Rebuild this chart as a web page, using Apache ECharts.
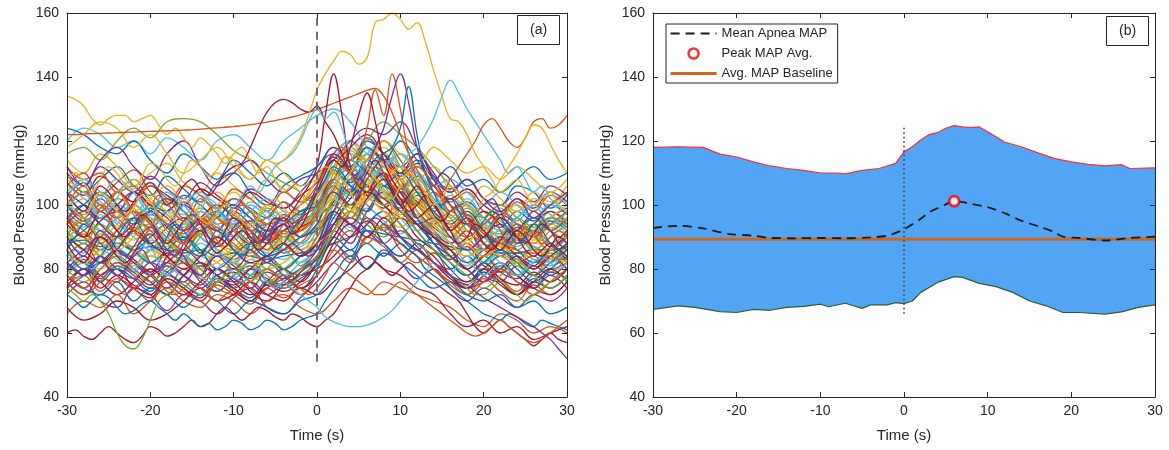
<!DOCTYPE html>
<html>
<head>
<meta charset="UTF-8">
<title>Blood pressure during apnea</title>
<script src="https://cdn.jsdelivr.net/npm/echarts@6/dist/echarts.min.js"></script>
<style>
  html, body { margin: 0; padding: 0; background: #fff; }
  #chart { width: 1169px; height: 450px; }
</style>
</head>
<body>
<div id="chart"></div>
<script>
// time grids (s)
var T1 = [-30,-29,-28,-27,-26,-25,-24,-23,-22,-21,-20,-19,-18,-17,-16,-15,-14,-13,-12,-11,-10,-9,-8,-7,-6,-5,-4,-3,-2,-1,0,1,2,3,4,5,6,7,8,9,10,11,12,13,14,15,16,17,18,19,20,21,22,23,24,25,26,27,28,29,30];
var T2 = [-30,-28,-26,-24,-22,-20,-18,-16,-14,-12,-10,-8,-6,-4,-2,0,2,4,6,8,10,12,14,16,18,20,22,24,26,28,30];

// panel (a): individual apnea traces, mmHg
var bpO1 = [108,110,107,104,108,112,110,106,105,109, 113,112,108,106,110,114,112,109,111,115, 114,110,108,111,114,113,114,117,121,128, 136,141,145,148,147,144,146,157,158,160, 158,155,157,151,142,134,127,126,122,116, 112,108,104,106,108,104,100,102,104,100, 98];
var bpO2 = [134,133,131,127,125,127,128,128,126,127, 128,125,122,124,121,118,121,119,116,113, 116,118,114,110,112,108,104,106,104,100, 103,106,110,108,104,100,104,108,105,100, 97,100,98,94,92,96,94,90,88,91, 94,92,88,86,89,92,90,87,86,89, 90];
var bpO3 = [122,122,122.2,122.3,122.4,122.5,122.6,122.7,122.8,122.9, 123,123.1,123.2,123.3,123.4,123.5,123.7,123.9,124.1,124.3, 124.5,124.8,125.1,125.5,125.9,126.4,126.9,127.5,128.2,129, 129.8,130.8,131.8,132.8,133.8,134.8,135.8,136.4,134,129, 122,116,111,107,104,102,100,98,96,94, 92,90,88,87,86,85,85,84,84,83, 83];
var bpO4 = [104,100,98,102,106,104,100,98,101,105, 107,104,100,102,106,108,105,103,106,110, 112,113,118,124,129,132,133,132,130,129, 131,126,122,116,110,106,104,108,110,106, 102,98,100,103,100,96,92,94,96,93, 88,86,89,92,90,86,84,86,88,86, 84];
var bpO5 = [96,92,90,94,98,96,92,90,93,97, 95,91,88,91,95,97,94,90,88,92, 96,94,90,88,92,96,95,98,102,106, 112,128,141,128,112,106,110,114,110,104, 100,103,106,102,97,95,98,100,96,92, 90,93,96,94,90,88,91,94,92,88, 86];
var bpO6 = [100,104,106,102,98,100,104,102,98,96, 99,103,101,97,95,98,102,100,96,94, 97,100,98,95,96,99,101,98,97,100, 104,110,116,118,114,116,124,136,128,141, 130,116,108,104,106,102,98,100,96,92, 94,96,92,88,90,93,91,88,90,92, 90];
var bpO7 = [90,86,84,88,92,90,86,84,87,91, 93,90,86,84,88,92,94,90,87,89, 93,95,92,88,90,94,96,93,95,100, 106,112,116,114,110,108,112,118,124,134, 141,132,118,110,106,110,108,104,100,98, 100,102,98,94,92,95,98,96,92,90, 92];
var bpO8 = [86,90,94,92,88,86,90,94,96,92, 88,86,90,94,92,88,85,88,92,90, 86,84,88,92,90,86,88,92,96,100, 104,108,112,110,106,104,108,112,116,118, 124,137,122,110,104,100,102,98,94,92, 95,98,96,92,88,90,94,92,88,86, 88];
var bpO9 = [98,102,104,100,96,98,102,106,104,100, 97,100,104,102,98,95,98,102,100,96, 99,103,106,104,108,112,114,116,120,126, 130,127,129,124,116,112,114,110,112,114, 112,116,118,122,127,134,139,135,130,126, 122,118,114,110,112,108,104,106,102,100, 98];
var bpO10 = [94,98,96,92,90,94,98,96,92,90, 93,96,94,90,88,91,95,93,89,87, 90,94,92,88,86,90,94,96,92,94, 98,104,108,112,110,106,108,112,110,106, 104,108,112,110,106,104,108,112,116,120, 125,127,124,120,118,121,126,127,124,125, 128];
var bpO11 = [88,84,82,86,90,88,84,82,85,89, 91,88,84,82,86,90,92,88,85,87, 90,92,89,86,88,92,94,91,93,98, 104,110,114,112,118,128,135,126,114,108, 104,100,96,98,100,96,92,88,90,94, 92,88,86,89,92,90,86,84,87,90, 88];
var bpO12 = [102,98,96,100,104,102,98,96,99,103, 101,97,95,98,102,100,96,94,97,100, 98,95,93,96,100,102,99,97,100,104, 108,112,110,106,110,114,112,108,104,102, 106,110,108,104,100,102,106,104,100,98, 102,104,108,112,116,121,125,124,119,114, 110];
var bpU1 = [60,61,59,58,60,62,60,58,57,59, 62,61,59,60,62,64,62,63,66,68, 66,64,66,68,67,65,64,66,65,63, 62,64,66,70,74,78,80,82,80,78, 80,82,80,78,76,74,72,70,66,62, 60,62,64,62,60,58,56,58,60,58, 57];
var bpU2 = [72,70,68,70,72,71,68,66,67,69, 70,68,66,64,66,64,62,63,61,62, 64,63,61,62,64,63,61,62,64,65, 66,70,74,78,82,86,88,86,84,86, 88,86,84,80,78,76,74,72,70,68, 66,65,64,66,65,63,62,64,63,62, 61];
var bpU3 = [74,72,70,72,70,66,60,56,55,58, 64,70,72,74,76,74,72,74,76,78, 80,78,76,78,80,82,80,78,80,82, 84,88,92,96,98,96,94,92,94,96, 94,90,88,86,82,80,78,76,74,72, 72,74,76,74,72,70,72,74,76,78, 76];
var bpU4 = [84,86,82,80,84,88,86,82,80,84, 86,82,78,80,84,82,78,76,80,82, 78,76,78,80,76,74,76,74,72,70, 68,65,63.5,62.5,62,62,62.5,63.5,65,67, 70,73,76,79,82,80,78,82,84,80, 78,80,82,80,78,80,82,84,82,80, 82];
var bpU5 = [82,80,78,82,84,80,78,80,84,86, 82,80,84,86,84,80,78,82,84,82, 80,82,86,84,82,84,86,88,86,84, 86,90,94,96,94,92,94,96,94,92, 90,88,86,84,82,80,78,76,75,73, 71,69.5,68,66.5,65,63.5,62,60,58,55, 52];
var bpU6 = [78,76,74,76,78,76,74,72,74,76, 78,76,73,72,74,76,74,72,70,72, 74,76,74,72,74,76,78,76,74,72, 74,78,82,80,78,76,74,72,72,74, 76,74,72,70,68,66,64,62,60,59, 60,62,64,62,60,58,57,58,60,62, 64];

var bpH1 = [120,124,122,118,120,116,121,118,114,120, 122,118,114,120,124,128,130,126,118,112, 116,110,106,108,104,100,104,100,96,100, 98];
var bpH2 = [116,118,114,120,124,121,126,127,126,122, 117,114,110,107,104,100,108,114,120,126, 122,118,112,106,100,96,100,96,92,96, 94];
var bpH3 = [112,106,114,118,112,108,116,120,112,106, 110,114,108,104,108,110,114,120,124,122, 126,118,110,104,108,102,98,102,96,100, 104];
var bpH4 = [124,122,118,116,120,114,110,116,112,108, 114,110,106,110,106,112,116,112,118,114, 120,114,108,112,106,108,104,108,112,108, 110];
var bpH5 = [118,122,126,124,118,122,116,110,114,118, 112,108,114,110,106,108,112,116,114,120, 116,112,118,114,110,112,108,112,108,104, 108];
var bpL1 = [66,70,68,72,66,70,74,70,68,72, 70,66,70,72,68,66,70,74,72,76, 74,72,70,68,64,62,66,64,60,62, 60];
var bpL2 = [68,64,66,70,68,64,66,70,74,70, 72,76,72,70,74,72,76,80,84,80, 78,74,72,66,62,64,60,62,58,60, 62];
var bpL3 = [78,74,72,76,70,74,72,68,72,70, 66,70,68,66,70,72,78,84,80,86, 82,78,74,76,72,70,72,68,70,66, 68];

var bulkA = [
  [110,104,108,112,106,103,109,105,101,107, 110,104,100,106,109,112,118,114,120,116, 110,114,108,104,108,102,100,106,104,99, 103],
  [80,84,78,76,82,79,74,80,77,73, 78,82,76,74,79,84,88,83,90,93, 86,82,85,78,75,80,77,73,78,76, 80],
  [92,96,89,94,98,90,86,92,95,88, 85,91,94,89,92,98,104,99,108,103, 97,101,96,90,94,88,86,91,88,93, 90],
  [100,95,99,104,97,93,98,101,95,92, 99,96,92,97,94,100,110,106,103,112, 108,101,98,102,96,92,97,94,90,96, 99],
  [86,82,88,84,80,86,89,83,80,85, 82,78,84,86,81,88,92,98,94,90, 96,92,86,84,88,82,80,85,83,79, 84],
  [104,108,101,98,104,107,100,97,103,99, 95,101,98,94,100,104,112,117,110,106, 112,107,100,103,97,94,99,95,100,97, 93],
  [76,72,78,80,74,71,77,74,70,76, 79,73,70,75,78,80,84,90,95,88, 84,88,82,77,74,79,75,72,76,74, 78],
  [96,100,94,90,96,99,93,89,95,98, 92,88,94,96,90,97,106,100,110,104, 99,103,95,92,97,91,88,93,90,95, 92],
  [88,91,86,90,93,87,84,89,92,86, 83,88,91,85,88,94,98,105,100,96, 102,96,91,88,92,86,84,89,87,83, 88],
  [114,110,116,112,106,110,113,107,104,110, 106,102,108,105,101,108,116,120,114,118, 112,108,112,104,100,106,102,98,104,101, 106],
  [72,76,70,68,74,72,67,72,70,66, 71,74,68,66,71,76,82,86,80,85, 82,77,80,74,70,74,71,68,72,70, 74],
  [101,97,103,99,95,100,97,93,99,96, 93,98,94,92,98,101,108,112,116,108, 104,108,101,97,94,98,95,91,96,94, 98],
  [84,80,86,83,79,84,81,78,84,80, 77,83,80,78,82,86,96,92,99,95, 91,95,88,84,81,86,82,78,83,81, 86],
  [94,90,95,98,92,88,93,96,90,87, 92,95,89,90,93,96,101,108,103,99, 104,98,93,90,94,88,86,90,92,87, 91],
  [79,83,77,81,78,74,79,82,76,73, 78,81,75,77,80,83,90,86,94,98, 90,86,90,84,80,76,81,78,74,79, 77],
  [106,110,103,107,111,104,100,106,103,99, 105,102,98,104,101,106,114,110,118,113, 108,112,106,101,104,98,96,101,98,103, 100],
  [87,90,84,88,85,82,87,84,81,86, 83,80,85,88,84,90,98,94,102,98, 93,97,90,87,84,88,84,82,86,83, 87],
  [110,106,112,108,104,109,105,102,107,103, 100,105,102,99,104,110,118,114,121,116, 112,116,109,105,108,102,100,104,101,106, 103],
  [91,95,90,87,92,94,88,86,91,93, 87,85,90,92,88,93,100,104,98,106, 101,96,99,92,89,93,87,86,90,88, 92],
  [97,93,99,95,91,97,94,90,96,92, 89,95,93,90,95,98,106,102,110,105, 100,104,97,93,96,91,89,94,91,96, 93],
  [84,88,82,86,83,79,85,82,78,84, 81,77,83,80,84,88,94,100,96,92, 96,90,86,83,87,81,79,84,81,86, 83],
  [103,107,100,104,108,101,98,103,100,96, 102,99,96,101,98,103,111,107,114,109, 105,109,102,98,101,96,93,98,95,100, 97],
  [75,78,73,77,74,70,76,73,70,75, 72,69,74,71,75,78,86,82,90,87, 82,86,80,75,72,77,73,70,75,72, 76],
  [95,91,97,93,89,94,91,88,93,90, 87,92,90,88,92,96,103,99,107,102, 98,102,95,92,95,90,87,92,89,94, 91],
  [82,78,84,80,77,82,79,76,81,78, 75,80,77,75,79,83,90,96,92,88, 92,87,82,80,84,78,76,81,78,83, 80],
  [100,104,98,102,99,95,101,98,94,100, 97,93,99,96,94,99,107,103,111,106, 101,105,98,95,99,93,91,96,93,98, 95],
  [89,85,91,87,84,89,86,83,88,85, 82,87,85,83,87,90,97,93,101,104, 96,92,95,88,86,90,85,83,87,84, 88],
  [107,103,109,105,101,106,103,100,105,102, 99,104,101,99,103,107,115,111,118,114, 109,113,106,102,105,100,97,102,99,104, 101],
  [78,82,76,80,77,73,78,75,72,77, 74,71,76,74,77,81,88,84,92,88, 84,88,82,78,74,79,76,72,77,74, 78],
  [98,94,100,96,92,97,94,91,96,93, 90,95,92,91,95,98,105,112,106,102, 106,100,96,93,97,91,89,94,91,96, 93],
  [86,82,88,85,81,86,83,80,85,82, 80,84,82,80,84,90,104,114,118,112, 106,100,94,88,82,80,84,81,78,83, 80],
  [80,84,78,82,79,75,81,78,75,80, 77,74,79,77,80,86,98,108,112,116, 108,98,90,84,80,84,79,77,81,78, 82],
  [92,88,94,90,87,92,89,86,91,88, 86,90,88,86,90,96,110,118,114,120, 112,104,96,90,86,82,86,83,80,85, 82],
  [98,102,96,100,97,93,98,95,92,97, 94,91,96,94,97,102,114,120,116,112, 116,108,100,94,90,94,89,87,91,88, 92],
  [76,80,74,78,75,72,77,74,71,76, 73,70,75,73,76,82,94,102,106,100, 104,96,88,82,78,82,77,75,79,76, 80],
  [88,89,87,88,86,87,86,85,86,84, 85,84,83,84,85,86,88,90,92,91, 90,89,88,87,86,86,85,85,86,86, 87],
  [112,108,110,104,106,100,102,96,98,94, 96,92,94,90,92,96,104,100,106,100, 96,94,90,86,88,84,86,82,84,80, 82],
  [78,82,80,84,80,84,82,86,84,88, 84,88,86,90,88,94,104,108,102,108, 104,100,102,98,100,96,100,98,102,100, 104],
  [100,96,102,98,104,98,94,100,96,92, 98,94,90,96,92,98,108,104,112,108, 102,98,92,88,92,86,90,88,92,96, 94],
  [84,88,84,80,86,82,78,84,80,76, 82,78,76,80,84,88,100,96,106,102, 108,98,92,84,80,84,80,78,82,86, 82],
  [90,94,98,94,90,86,90,94,90,86, 82,86,90,86,82,88,100,110,116,120, 114,106,98,92,86,82,86,90,86,82, 86],
  [104,100,96,100,104,100,96,92,96,100, 96,92,88,92,96,100,112,118,122,116, 110,116,108,100,94,98,94,90,94,98, 94],
  [82,78,82,86,82,78,74,78,82,78, 74,78,82,78,74,80,92,100,98,106, 100,92,86,80,76,80,84,80,76,80, 84],
  [96,92,88,92,96,92,88,92,96,92, 88,84,88,92,88,94,106,100,108,114, 106,100,104,96,90,86,90,94,90,86, 90],
  [108,104,100,104,98,102,106,100,96,100, 104,98,94,98,96,102,112,118,114,108, 112,106,98,94,98,92,96,100,96,100, 104],
  [74,78,82,78,74,78,82,78,74,78, 80,76,72,76,80,84,92,88,96,92, 88,84,80,76,74,76,80,76,74,78, 74],
  [92,86,90,96,100,94,88,84,90,96, 92,86,82,88,94,98,108,116,112,104, 98,104,100,92,86,90,96,92,86,90, 94],
  [102,108,104,98,94,98,104,100,94,90, 94,100,96,90,88,94,102,98,106,112, 116,110,102,96,100,94,90,96,100,94, 98],
  [78,74,80,84,80,76,72,78,82,78, 74,70,76,80,76,82,90,98,104,100, 94,88,84,78,74,78,82,78,74,72, 76],
  [88,92,96,92,86,90,94,88,84,88, 92,88,84,86,90,92,98,110,106,100, 104,96,90,86,82,86,90,86,82,86, 90],
  [96,90,86,92,98,94,90,86,92,96, 90,86,92,88,84,90,100,96,104,110, 104,98,94,98,92,88,84,88,92,88, 84],
  [106,102,98,104,108,102,98,94,100,104, 98,94,100,96,92,98,108,114,110,116, 110,104,100,96,92,96,100,96,92,96, 100],
  [82,86,90,86,82,78,82,86,82,78, 76,80,84,80,78,84,94,90,98,104, 98,94,88,84,80,76,80,84,80,84, 80],
  [90,96,92,88,92,98,94,90,86,90, 94,90,86,90,86,92,102,108,104,100, 106,100,94,90,94,90,86,90,94,92, 88],
  [100,96,92,96,100,96,90,94,98,94, 90,94,98,94,90,96,106,112,108,104, 100,96,92,88,84,88,92,88,92,96, 92],
  [74,80,76,72,76,80,76,72,76,80, 76,72,74,78,74,78,88,94,90,96, 90,86,82,78,76,80,76,72,76,80, 76],
  [86,80,84,90,86,82,86,90,86,80, 84,88,84,80,84,88,96,104,112,108, 100,94,88,82,78,82,86,82,78,82, 86],
  [98,104,100,96,100,106,102,98,94,98, 102,98,94,96,100,104,110,106,114,120, 114,106,100,94,90,94,98,94,90,94, 98],
  [84,82,86,90,86,84,88,84,80,82, 86,84,80,82,86,88,92,98,102,98, 96,100,94,88,84,86,84,82,86,84, 82],
  [94,98,94,90,94,98,92,88,92,96, 92,88,90,94,90,94,104,100,106,102, 98,94,96,90,86,90,94,90,88,92, 96],
  [80,76,80,84,80,76,80,84,80,76, 78,82,78,74,78,82,92,100,96,92, 98,92,86,82,78,74,78,82,78,74, 78],
  [104,98,102,108,104,98,94,100,104,98, 94,98,102,98,94,100,110,106,112,108, 104,110,104,98,102,96,92,96,100,104, 100],
  [90,86,82,86,92,88,84,80,84,90, 86,82,84,88,84,88,98,94,102,108, 100,94,90,86,80,84,88,84,80,84, 88],
  [96,100,104,100,94,98,102,98,92,96, 100,96,92,94,98,100,108,114,110,106, 110,104,98,94,98,92,88,92,96,92, 96],
  [76,72,76,82,78,74,78,82,78,74, 72,76,80,76,72,78,86,92,88,94, 88,84,80,76,72,76,80,76,72,76, 80],
  [88,94,90,86,90,96,92,88,92,96, 92,88,86,90,94,96,102,98,106,112, 108,102,96,92,88,84,88,92,88,92, 96]
];

// panel (b): envelope, mean and baseline, mmHg
var upperT  = [-30,-27,-24,-22,-20,-18,-16,-14,-12,-10,-8,-7,-5,-3,-1,0,1,2,3,4,5,6,7,8,9,10,11,12,14,16,18,20,22,24,26,27,30];
var upperBP = [118,118.2,118,115.9,115,113.5,112.2,111.4,110.8,110,110,109.7,110.8,111.4,113,116.6,118.2,120.3,122,122.6,124,124.8,124.4,124.2,124.4,122.9,121.3,119.7,118.2,116.3,114.5,113.5,112.7,112.2,112.6,111.4,111.6];
var lowerT  = [-30,-27,-25,-22,-20,-18,-16,-14,-12,-10,-9,-7,-5,-4,-2,-1,0,1,2,4,6,7,9,11,13,15,17,19,21,24,26,28,30];
var lowerBP = [67.4,68.5,68,66.7,66.4,67.4,67.1,68,68.3,69,68.2,69.3,67.7,68.8,68.8,69.5,69.2,70,72.7,75.8,77.6,77.4,75.5,74.5,72.7,70,68.5,66.4,66.4,65.9,66.6,68,68.8];
var meanT   = [-30,-27,-24,-21,-18,-16,-13,-10,-7,-4,-2,0,2,3,5,6,8,10,12,14,16,18,19,21,24,27,30];
var meanBP  = [92.8,93.5,92.7,91,90.4,89.7,89.6,89.7,89.6,89.9,90.4,92.4,95.7,97.7,100.2,101.2,100.4,99.3,97.5,95.1,93.4,91.5,90.1,89.7,88.9,89.7,90.1];
var peakT = 6, peakBP = 101.2;
var baselineBP = 89.3;
var apneaLineBP = [66, 124.4];

var colors = ['#0072BD', '#D95319', '#EDB120', '#7E2F8E', '#77AC30', '#4DBEEE', '#A2142F'];
var ink = '#262626';

function pairs(t, v) {
  return v.map(function (y, i) { return [t[i], y]; });
}

var series = [];
function trace(t, v, ci) {
  series.push({
    type: 'line', xAxisIndex: 0, yAxisIndex: 0,
    data: pairs(t, v), symbol: 'none', smooth: 0.4, silent: true,
    lineStyle: { width: 1.3, color: colors[ci] }
  });
}
bulkA.forEach(function (v, i) { trace(T2, v, i % 7); });
trace(T2, bpH1, 5); trace(T2, bpH2, 4); trace(T2, bpH3, 3); trace(T2, bpH4, 0); trace(T2, bpH5, 2);
trace(T2, bpL1, 1); trace(T2, bpL2, 6); trace(T2, bpL3, 0);
trace(T1, bpU1, 6); trace(T1, bpU2, 0); trace(T1, bpU3, 4); trace(T1, bpU4, 5); trace(T1, bpU5, 3); trace(T1, bpU6, 1);
trace(T1, bpO2, 2); trace(T1, bpO3, 1); trace(T1, bpO4, 6); trace(T1, bpO5, 6); trace(T1, bpO6, 1);
trace(T1, bpO7, 3); trace(T1, bpO8, 0); trace(T1, bpO9, 5); trace(T1, bpO10, 1); trace(T1, bpO11, 6);
trace(T1, bpO12, 2); trace(T1, bpO1, 2);

// apnea onset marker (a)
series.push({
  type: 'line', xAxisIndex: 0, yAxisIndex: 0, z: 5, silent: true,
  data: [[0, 51], [0, 160]], symbol: 'none',
  lineStyle: { color: '#6e6e6e', width: 2, type: [8, 6] }
});

// panel (b)
series.push({
  name: 'upper', type: 'line', xAxisIndex: 2, yAxisIndex: 2, z: 2, silent: true,
  data: pairs(upperT, upperBP), symbol: 'none',
  lineStyle: { color: '#ff2a2a', width: 1.2 },
  areaStyle: { color: '#52A5F5', opacity: 1, origin: 'start' }
});
series.push({
  name: 'lower', type: 'line', xAxisIndex: 2, yAxisIndex: 2, z: 3, silent: true,
  data: pairs(lowerT, lowerBP), symbol: 'none',
  lineStyle: { color: '#2f5f2f', width: 1.2 },
  areaStyle: { color: '#ffffff', opacity: 1, origin: 'start' }
});
series.push({
  name: 'Avg. MAP Baseline', type: 'line', xAxisIndex: 2, yAxisIndex: 2, z: 4,
  data: [[-30, baselineBP], [30, baselineBP]], symbol: 'none',
  lineStyle: { color: '#D0661A', width: 3 }, itemStyle: { color: '#D0661A' }
});
series.push({
  name: 'Mean Apnea MAP', type: 'line', xAxisIndex: 2, yAxisIndex: 2, z: 5,
  data: pairs(meanT, meanBP), symbol: 'none', smooth: 0.3,
  lineStyle: { color: '#1a1a1a', width: 1.8, type: [9, 6] }, itemStyle: { color: '#1a1a1a' }
});
series.push({
  name: 'onset', type: 'line', xAxisIndex: 2, yAxisIndex: 2, z: 5, silent: true,
  data: [[0, apneaLineBP[0]], [0, apneaLineBP[1]]], symbol: 'none',
  lineStyle: { color: '#333', width: 1.5, type: [1.5, 3] }
});
series.push({
  name: 'Peak MAP Avg.', type: 'scatter', xAxisIndex: 2, yAxisIndex: 2, z: 6,
  data: [[peakT, peakBP]], symbol: 'circle', symbolSize: 10,
  itemStyle: { color: '#ffffff', borderColor: '#ff0000', borderWidth: 2.8 }
});

function xAx(grid, top) {
  return {
    type: 'value', gridIndex: grid, min: -30, max: 30, interval: 10, z: 10,
    position: top ? 'top' : 'bottom',
    name: top ? '' : 'Time (s)', nameLocation: 'middle', nameGap: 31,
    nameTextStyle: { fontSize: 15, color: ink },
    axisLine: { onZero: false, lineStyle: { color: ink, width: 1 } },
    axisTick: { inside: true, length: 5, lineStyle: { color: ink } },
    axisLabel: { show: !top, fontSize: 14, color: ink, margin: 7 },
    splitLine: { show: false }
  };
}
function yAx(grid, right) {
  return {
    type: 'value', gridIndex: grid, min: 40, max: 160, interval: 20, z: 10,
    position: right ? 'right' : 'left',
    name: right ? '' : 'Blood Pressure (mmHg)', nameLocation: 'middle', nameGap: 40,
    nameTextStyle: { fontSize: 15, color: ink },
    axisLine: { show: true, onZero: false, lineStyle: { color: ink, width: 1 } },
    axisTick: { show: true, inside: true, length: 5, lineStyle: { color: ink } },
    axisLabel: { show: !right, fontSize: 14, color: ink, margin: 8 },
    splitLine: { show: false }
  };
}

var option = {
  animation: false,
  backgroundColor: '#ffffff',
  textStyle: { fontFamily: 'Liberation Sans, Arial, sans-serif' },
  title: [
    { text: '(a)', left: 517, top: 15, padding: [8, 13], borderColor: ink, borderWidth: 1,
      backgroundColor: '#fff', textStyle: { fontSize: 14, fontWeight: 'normal', color: ink } },
    { text: '(b)', left: 1106, top: 16, padding: [8, 13], borderColor: ink, borderWidth: 1,
      backgroundColor: '#fff', textStyle: { fontSize: 14, fontWeight: 'normal', color: ink } }
  ],
  legend: {
    data: [
      { name: 'Mean Apnea MAP', itemStyle: { opacity: 0 }, lineStyle: { width: 1.8 } },
      { name: 'Peak MAP Avg.', icon: 'circle', itemStyle: { color: '#ffffff', borderColor: '#ff0000', borderWidth: 2.6 } },
      { name: 'Avg. MAP Baseline', itemStyle: { opacity: 0 }, lineStyle: { width: 3.2 } }
    ],
    orient: 'vertical', left: 666, top: 24, padding: [3, 5, 3, 3], itemGap: 7,
    itemWidth: 46, itemHeight: 10, selectedMode: false,
    borderColor: ink, borderWidth: 1, backgroundColor: '#fff',
    textStyle: { fontSize: 13, color: ink }
  },
  grid: [
    { left: 67, top: 13, width: 500, height: 384 },
    { left: 653, top: 13, width: 502, height: 384 }
  ],
  xAxis: [xAx(0, false), xAx(0, true), xAx(1, false), xAx(1, true)],
  yAxis: [yAx(0, false), yAx(0, true), yAx(1, false), yAx(1, true)],
  series: series
};

var chart = echarts.init(document.getElementById('chart'), null, { renderer: 'canvas' });
chart.setOption(option);
</script>
</body>
</html>
